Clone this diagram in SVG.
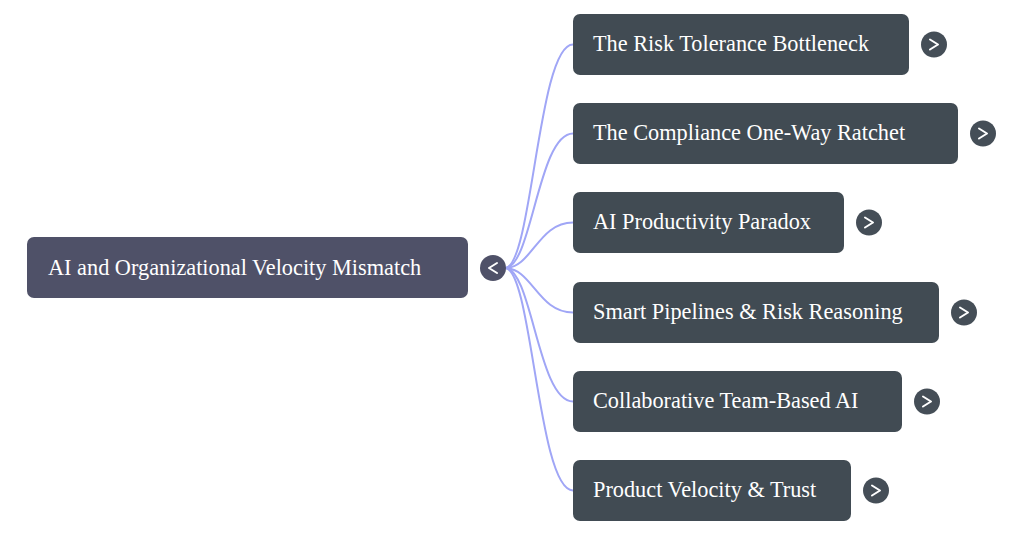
<svg xmlns="http://www.w3.org/2000/svg" width="1024" height="536" viewBox="0 0 1024 536">
<style>
.root rect{fill:#4f5168}
.child rect{fill:#414b53}
.lbl{font-family:"Liberation Serif",serif;font-size:22.3px;fill:#ffffff}
.btn{fill:#454e57}
.rbtn{fill:#4f5168}
.chev{fill:none;stroke:#ffffff;stroke-width:2;stroke-linecap:round;stroke-linejoin:round}
.conn path{fill:none;stroke:#a0a6f6;stroke-width:2}
</style>
<rect width="1024" height="536" fill="#ffffff"/>
<g class="conn">
<path d="M505 268 C532 268 538 44.5 573 44.5"/>
<path d="M505 268 C532 268 538 133.5 573 133.5"/>
<path d="M505 268 C532 268 538 222.5 573 222.5"/>
<path d="M505 268 C532 268 538 312.5 573 312.5"/>
<path d="M505 268 C532 268 538 401.5 573 401.5"/>
<path d="M505 268 C532 268 538 490.5 573 490.5"/>
</g>
<g id="root" class="root">
<rect x="27" y="237" width="441" height="61" rx="7"/>
<text class="lbl" x="48" y="275">AI and Organizational Velocity Mismatch</text>
<circle class="rbtn" cx="493" cy="268" r="13"/>
<path class="chev" d="M497 263 L489 268 L497 273"/>
</g>
<g id="n1" class="child">
<rect x="573" y="14" width="336" height="61" rx="7"/>
<text class="lbl" x="593" y="51">The Risk Tolerance Bottleneck</text>
<circle class="btn" cx="934" cy="44.5" r="13"/>
<path class="chev" d="M930 39.5 L938 44.5 L930 49.5"/>
</g>
<g id="n2" class="child">
<rect x="573" y="103" width="385" height="61" rx="7"/>
<text class="lbl" x="593" y="140">The Compliance One-Way Ratchet</text>
<circle class="btn" cx="983" cy="133.5" r="13"/>
<path class="chev" d="M979 128.5 L987 133.5 L979 138.5"/>
</g>
<g id="n3" class="child">
<rect x="573" y="192" width="271" height="61" rx="7"/>
<text class="lbl" x="593" y="229">AI Productivity Paradox</text>
<circle class="btn" cx="869" cy="222.5" r="13"/>
<path class="chev" d="M865 217.5 L873 222.5 L865 227.5"/>
</g>
<g id="n4" class="child">
<rect x="573" y="282" width="366" height="61" rx="7"/>
<text class="lbl" x="593" y="319">Smart Pipelines &amp; Risk Reasoning</text>
<circle class="btn" cx="964" cy="312.5" r="13"/>
<path class="chev" d="M960 307.5 L968 312.5 L960 317.5"/>
</g>
<g id="n5" class="child">
<rect x="573" y="371" width="329" height="61" rx="7"/>
<text class="lbl" x="593" y="408">Collaborative Team-Based AI</text>
<circle class="btn" cx="927" cy="401.5" r="13"/>
<path class="chev" d="M923 396.5 L931 401.5 L923 406.5"/>
</g>
<g id="n6" class="child">
<rect x="573" y="460" width="278" height="61" rx="7"/>
<text class="lbl" x="593" y="497">Product Velocity &amp; Trust</text>
<circle class="btn" cx="876" cy="490.5" r="13"/>
<path class="chev" d="M872 485.5 L880 490.5 L872 495.5"/>
</g>
</svg>
